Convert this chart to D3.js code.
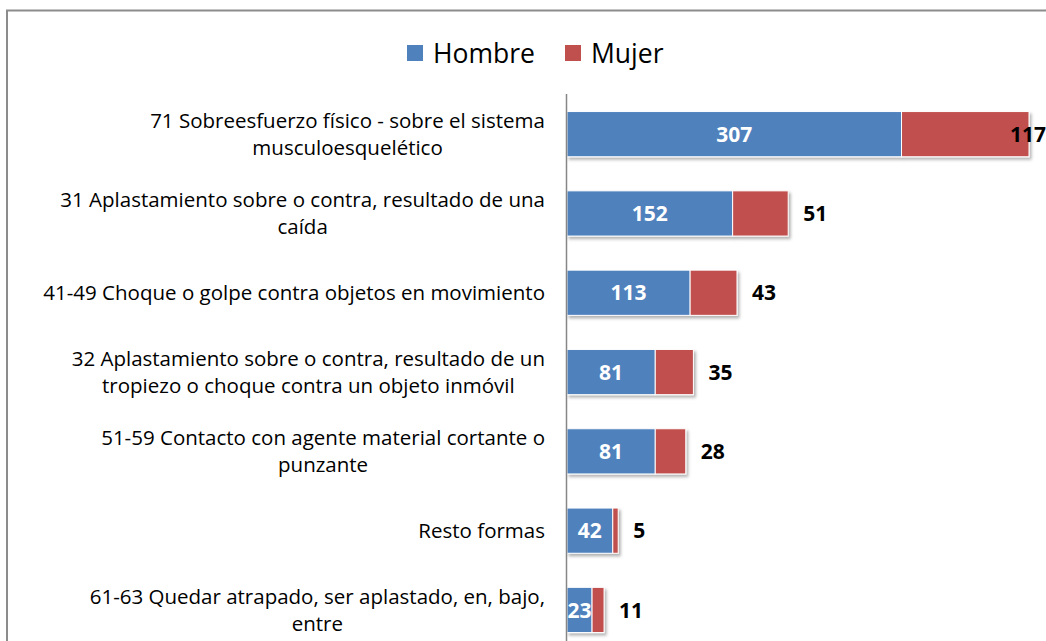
<!DOCTYPE html>
<html lang="es">
<head>
<meta charset="utf-8">
<script src="https://cdn.jsdelivr.net/npm/d3@7"></script>
<style>
    body { margin: 0; background: #fff; }
    svg { display: block; font-family: "Open Sans", sans-serif; }
</style>
</head>
<body>
<script>
    // categorias (cada una partida en lineas como en el original)
    const categories = [
        ["71 Sobreesfuerzo físico - sobre el sistema", "musculoesquelético"],
        ["31 Aplastamiento sobre o contra, resultado de una", "caída"],
        ["41-49 Choque o golpe contra objetos en movimiento"],
        ["32 Aplastamiento sobre o contra, resultado de un", "tropiezo o choque contra un objeto inmóvil"],
        ["51-59 Contacto con agente material cortante o", "punzante"],
        ["Resto formas"],
        ["61-63 Quedar atrapado, ser aplastado, en, bajo,", "entre"]
    ];
    const hombre = [307, 152, 113, 81, 81, 42, 23];
    const mujer = [117, 51, 43, 35, 28, 5, 11];
    const seriesNames = ["Hombre", "Mujer"];
    const colors = ["#4f81bd", "#c0504d"];

    let w = 1046;
    let h = 641;
    let svg = d3.select("body")
                .append("svg")
                .attr("width", w)
                .attr("height", h);

    // sombra de las barras
    let filt = svg.append("defs").append("filter")
                .attr("id", "shadow")
                .attr("x", "-10%").attr("y", "-10%")
                .attr("width", "130%").attr("height", "140%");
    filt.append("feDropShadow")
        .attr("dx", 2).attr("dy", 2.5)
        .attr("stdDeviation", 1.5)
        .attr("flood-color", "#000")
        .attr("flood-opacity", 0.3);

    // marco del grafico
    svg.append("rect")
        .attr("x", 7).attr("y", 10.5)
        .attr("width", 1100).attr("height", 700)
        .attr("fill", "none")
        .attr("stroke", "#8c8c8c")
        .attr("stroke-width", 2);

    let keys = categories.map((d, i) => i);
    let totals = hombre.map((d, i) => d + mujer[i]);

    let xScale = d3.scaleLinear()
                    .domain([0, d3.max(totals)])
                    .range([567, 1029]);

    let yScale = d3.scaleBand()
                    .domain(keys)
                    .range([94.5, 649.6])
                    .paddingInner(0.43)
                    .paddingOuter(0.215);

    let rows = keys.map((i) => ({i: i, h: hombre[i], m: mujer[i]}));

    let bars = svg.append("g").attr("filter", "url(#shadow)");

    bars.selectAll("rect.h")
        .data(rows)
        .enter()
        .append("rect")
        .attr("class", "h")
        .attr("x", xScale(0))
        .attr("y", (d) => yScale(d.i))
        .attr("width", (d) => xScale(d.h) - xScale(0))
        .attr("height", yScale.bandwidth())
        .attr("fill", colors[0])
        .attr("stroke", "#fff")
        .attr("stroke-width", 1);

    bars.selectAll("rect.m")
        .data(rows)
        .enter()
        .append("rect")
        .attr("class", "m")
        .attr("x", (d) => xScale(d.h))
        .attr("y", (d) => yScale(d.i))
        .attr("width", (d) => xScale(d.h + d.m) - xScale(d.h))
        .attr("height", yScale.bandwidth())
        .attr("fill", colors[1])
        .attr("stroke", "#fff")
        .attr("stroke-width", 1);

    // eje vertical
    svg.append("line")
        .attr("x1", xScale(0) - 0.5).attr("x2", xScale(0) - 0.5)
        .attr("y1", 94).attr("y2", h)
        .attr("stroke", "#868686")
        .attr("stroke-width", 1.5);

    // etiquetas de valores
    svg.selectAll("text.vh")
        .data(rows)
        .enter()
        .append("text")
        .attr("class", "vh")
        .attr("x", (d) => (xScale(0) + xScale(d.h)) / 2)
        .attr("y", (d) => yScale(d.i) + yScale.bandwidth() / 2)
        .attr("dy", "0.36em")
        .attr("text-anchor", "middle")
        .attr("font-size", "21px")
        .attr("font-weight", "bold")
        .attr("fill", "#fff")
        .text((d) => d.h);

    svg.selectAll("text.vm")
        .data(rows)
        .enter()
        .append("text")
        .attr("class", "vm")
        .attr("x", (d) => Math.min(xScale(d.h + d.m) + 15, 1010))
        .attr("y", (d) => yScale(d.i) + yScale.bandwidth() / 2)
        .attr("dy", "0.36em")
        .attr("font-size", "21px")
        .attr("font-weight", "bold")
        .attr("fill", "#000")
        .text((d) => d.m);

    // etiquetas de categorias
    let lineH = 27;
    categories.forEach((lines, i) => {
        let g = svg.append("g");
        let cy = yScale(i) + yScale.bandwidth() / 2;
        let texts = lines.map((t, j) => g.append("text")
            .attr("y", cy + (j - (lines.length - 1) / 2) * lineH)
            .attr("dy", "0.36em")
            .attr("text-anchor", "middle")
            .attr("font-size", "20.5px")
            .attr("fill", "#000")
            .text(t));
        let maxW = d3.max(texts, (t) => t.node().getComputedTextLength());
        texts.forEach((t) => t.attr("x", 545 - maxW / 2));
    });

    // leyenda
    let legendX = [407, 565];
    let legend = svg.append("g");
    seriesNames.forEach((name, i) => {
        legend.append("rect")
            .attr("x", legendX[i]).attr("y", 45)
            .attr("width", 16).attr("height", 16)
            .attr("fill", colors[i]);
        legend.append("text")
            .attr("x", legendX[i] + 26).attr("y", 53)
            .attr("dy", "0.36em")
            .attr("font-size", "26.5px")
            .attr("fill", "#000")
            .text(name);
    });
</script>
</body>
</html>
